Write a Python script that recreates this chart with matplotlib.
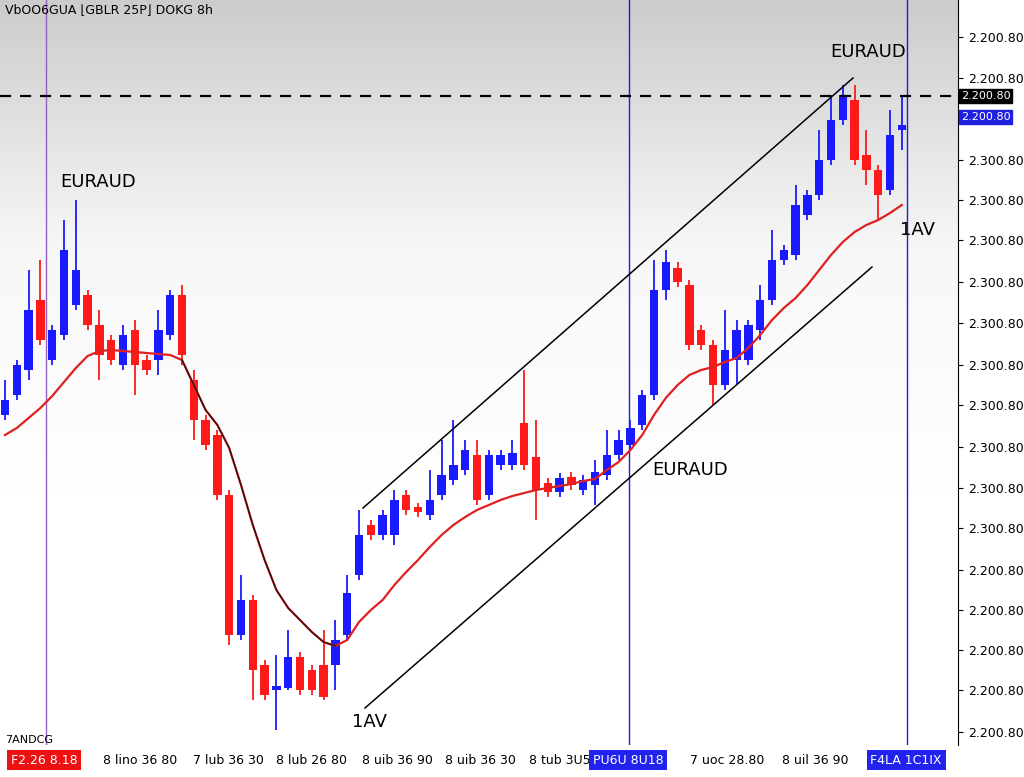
import matplotlib
matplotlib.use("Agg")
import matplotlib.pyplot as plt
import numpy as np

# Candle readings from the picture (vertical readings, top of chart = 0); price = 800 - reading
up =       [1,1,1,0,1,1,1,0,0,0,1,0,0,1,1,0,0,0,0,0,1,0,0,1,1,0,0,0,1,1,1,0,1,1,0,0,1,1,1,1,0,1,1,1,0,0,0,1,0,1,1,1,1,1,1,1,1,0,0,0,0,1,1,1,1,1,1,1,1,1,1,1,0,0,0,1,1]
body_top = [400,365,310,300,330,250,270,295,325,340,335,330,360,330,295,295,380,420,435,495,600,600,665,686,657,657,670,665,640,593,535,525,515,500,495,507,500,475,465,450,455,455,455,453,423,457,483,478,477,480,472,455,440,428,395,290,262,268,285,330,345,350,330,325,300,260,250,205,195,160,120,95,100,155,170,135,125]
body_bot = [415,395,370,340,360,335,305,325,355,360,365,365,370,360,335,355,420,445,495,635,635,670,695,690,688,690,690,697,665,635,575,535,535,535,510,512,515,495,480,470,500,495,465,465,465,490,492,492,485,490,485,475,455,445,425,395,290,282,345,345,385,385,360,360,330,300,260,255,215,195,160,120,160,170,195,190,130]
wick_top = [380,360,270,260,325,220,200,290,310,335,325,320,355,310,290,285,370,415,430,490,575,595,660,655,630,652,665,630,620,575,510,520,510,490,490,503,470,440,420,440,440,450,450,440,370,420,478,473,472,475,460,430,430,420,390,260,250,262,280,325,340,310,320,320,285,230,245,185,190,130,95,85,85,130,165,110,95]
wick_bot = [420,400,380,345,365,340,310,330,380,365,370,395,375,375,340,365,440,450,500,645,640,700,700,730,690,695,695,700,690,640,580,540,540,545,515,517,520,500,485,475,505,500,470,470,470,520,497,497,490,495,505,480,460,450,430,400,300,287,350,350,405,390,385,365,340,305,265,260,220,200,165,125,165,185,220,195,150]
ma_read =  [435,428,418,408,396,382,368,356,351,350,351,352,353,354,355,360,385,410,425,448,485,525,560,590,608,620,632,642,646,640,622,610,600,585,572,560,547,535,525,517,510,505,500,496,493,490,488,486,484,481,479,470,462,450,435,415,398,385,375,370,367,362,358,348,335,320,308,298,285,270,255,242,232,225,220,213,205]

ytick_labels = ["2.200.80","2.200.80","2.300.80","2.300.80","2.300.80","2.300.80","2.300.80","2.300.80",
                "2.300.80","2.300.80","2.300.80","2.300.80","2.200.80","2.200.80","2.200.80","2.200.80","2.200.80"]
ytick_read = [37,78,160,200,240,282,323,365,405,447,488,528,570,610,650,690,732]
xlabels = ["8 lino 36 80","7 lub 36 30","8 lub 26 80","8 uib 36 90","8 uib 36 30","8 tub 3U5","7 uoc 28.80","8 uil 36 90"]
xlabel_px = [140,228,312,397,480,560,727,815]

def P(r): return 800 - np.asarray(r, dtype=float)

fig = plt.figure(figsize=(10.24,7.77), dpi=100)
W,H = 1024,777
ax = fig.add_axes([0, 32/H, 958/W, 745/H])
px = 11.8
x0 = -5/px
ax.set_xlim(x0, x0+958/px)
ax.set_ylim(55, 800)
grad = np.linspace(0,1,200).reshape(-1,1)
cmap = matplotlib.colors.LinearSegmentedColormap.from_list("g",[(1,1,1),(1,1,1),(0.97,0.97,0.97),(0.80,0.80,0.80)])
ax.imshow(grad, extent=[x0, x0+958/px, 55, 800], aspect="auto", cmap=cmap, origin="lower", zorder=0)

def X(p): return (p-5)/px
def Y(p): return 800-p

bt, bb, wt, wb = P(body_top), P(body_bot), P(wick_top), P(wick_bot)
for i in range(len(up)):
    col = "#1a1aff" if up[i] else "#ff1a1a"
    ax.vlines(i, wb[i], wt[i], color=col, lw=1.3, zorder=3)
    ax.bar(i, max(bt[i]-bb[i],2), bottom=bb[i], width=0.7, color=col, zorder=4)
ma = P(ma_read)
idx = np.arange(len(ma))
ax.plot(idx, ma, color="#e02020", lw=1.6, zorder=5)
ax.plot(idx[15:29], ma[15:29], color="#301010", lw=1.0, zorder=6)

ax.plot([X(363),X(853)],[Y(508),Y(78)], color="black", lw=1.1, zorder=6)
ax.plot([X(365),X(872)],[Y(708),Y(267)], color="black", lw=1.1, zorder=6)
ax.axhline(Y(96), color="black", lw=1.6, ls=(0,(5,4)), zorder=6)
ax.axvline(X(46), color="#9060c0", lw=1, zorder=2)
ax.axvline(X(629), color="#2020d0", lw=1, zorder=2)
ax.axvline(X(907), color="#2020d0", lw=1, zorder=2)

for t,(a,b) in [("EURAUD",(60,182)),("EURAUD",(830,52)),("EURAUD",(652,470)),("1AV",(352,722)),("1AV",(900,230))]:
    ax.text(X(a),Y(b),t,fontsize=13,va="center",ha="left",zorder=7)
ax.text(X(5),Y(10),"VbOO6GUA ⌊GBLR 25P⌋ DOKG 8h",fontsize=9,va="center",zorder=7)
ax.text(X(5),Y(740),"7ANDCG",fontsize=8,va="center",zorder=7)

ax.yaxis.tick_right()
ax.set_yticks(P(ytick_read))
ax.set_yticklabels(ytick_labels, fontsize=9)
ax.set_xticks([])
for s in ["top","left","bottom"]:
    ax.spines[s].set_visible(False)
ax.text(1.003, 1-96/745, "2.200.80", transform=ax.transAxes, fontsize=8, color="white", va="center",
        bbox=dict(boxstyle="square,pad=0.15", fc="black", ec="black"))
ax.text(1.003, 1-117/745, "2.200.80", transform=ax.transAxes, fontsize=8, color="white", va="center",
        bbox=dict(boxstyle="square,pad=0.15", fc="#2020e0", ec="#2020e0"))

yb = 1-760/H
for t,p in zip(xlabels,xlabel_px):
    fig.text(p/W, yb, t, fontsize=9, ha="center", va="center")
fig.text(44/W, yb, "F2.26 8.18", fontsize=9, ha="center", va="center", color="white",
         bbox=dict(boxstyle="square,pad=0.3", fc="#ee1111", ec="none"))
fig.text(628/W, yb, "PU6U 8U18", fontsize=9, ha="center", va="center", color="white",
         bbox=dict(boxstyle="square,pad=0.3", fc="#2222ee", ec="none"))
fig.text(906/W, yb, "F4LA 1C1IX", fontsize=9, ha="center", va="center", color="white",
         bbox=dict(boxstyle="square,pad=0.3", fc="#2222ee", ec="none"))
fig.savefig("out.png", dpi=100)
